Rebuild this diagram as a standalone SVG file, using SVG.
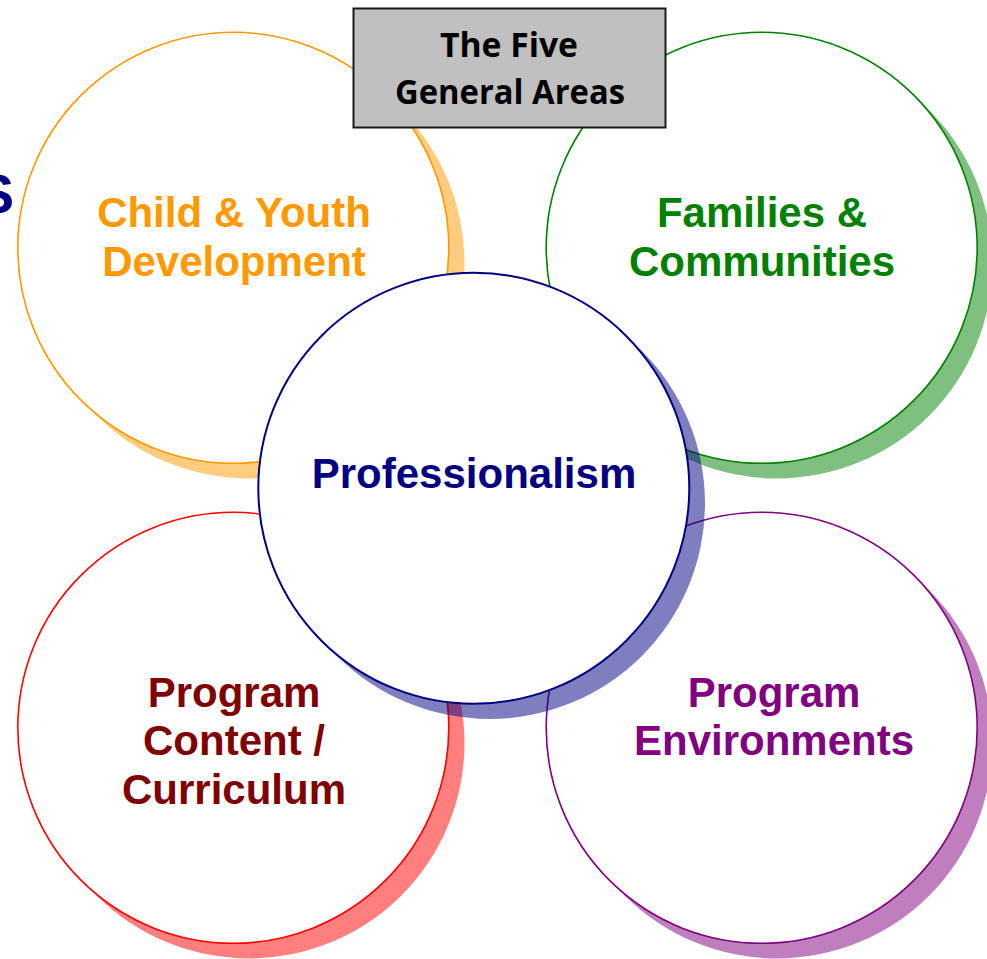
<svg xmlns="http://www.w3.org/2000/svg" width="987" height="959" viewBox="0 0 987 959">
<style>
  .lbl { font-family: "Liberation Sans", Arial, sans-serif; font-weight: bold; font-size: 42px; text-anchor: middle; }
  .ring { fill: #ffffff; stroke-width: 1.6; }
  .shadow { opacity: 0.5; }
  .box { fill: #c0c0c0; stroke: #1a1a1a; stroke-width: 2; }
  .boxt { font-family: "Open Sans", "DejaVu Sans", sans-serif; font-weight: bold; font-size: 34px; fill: #000000; text-anchor: middle; }
</style>
<rect width="987" height="959" fill="#ffffff"/>
<text x="14" y="213" style="font-family:'Liberation Sans', Arial, sans-serif;font-weight:bold;font-size:56px;fill:#000080" text-anchor="end">S</text>

<g id="node-child-youth">
  <circle class="shadow" cx="249" cy="263" r="215.5" fill="#ff9900"/>
  <circle class="ring" cx="233.3" cy="247.8" r="215.5" stroke="#ff9900"/>
  <text class="lbl" x="234" y="227" fill="#ff9900">Child &amp; Youth</text>
  <text class="lbl" x="234" y="276" fill="#ff9900">Development</text>
</g>

<g id="node-families">
  <circle class="shadow" cx="777" cy="263" r="215.5" fill="#008000"/>
  <circle class="ring" cx="761.7" cy="247.8" r="215.5" stroke="#008000"/>
  <text class="lbl" x="762" y="227" fill="#008000">Families &amp;</text>
  <text class="lbl" x="762" y="276" fill="#008000">Communities</text>
</g>

<g id="node-curriculum">
  <circle class="shadow" cx="249" cy="743" r="215.5" fill="#ff0000"/>
  <circle class="ring" cx="233.3" cy="727.8" r="215.5" stroke="#ff0000"/>
  <text class="lbl" x="234" y="707" fill="#800000">Program</text>
  <text class="lbl" x="234" y="755" fill="#800000">Content /</text>
  <text class="lbl" x="234" y="804" fill="#800000">Curriculum</text>
</g>

<g id="node-environments">
  <circle class="shadow" cx="777" cy="743" r="215.5" fill="#800080"/>
  <circle class="ring" cx="761.7" cy="727.8" r="215.5" stroke="#800080"/>
  <text class="lbl" x="774" y="707" fill="#800080">Program</text>
  <text class="lbl" x="774" y="755" fill="#800080">Environments</text>
</g>

<g id="node-professionalism">
  <circle class="shadow" cx="489.5" cy="503.5" r="215.5" fill="#000080"/>
  <circle class="ring" cx="473.8" cy="488.3" r="215.5" stroke="#000080" style="stroke-width:2"/>
  <text class="lbl" x="474" y="488" fill="#000080">Professionalism</text>
</g>

<g id="node-title">
  <rect class="box" x="353.5" y="8.5" width="312" height="119"/>
  <text class="boxt" x="509" y="57" textLength="138" lengthAdjust="spacingAndGlyphs">The Five</text>
  <text class="boxt" x="510" y="104" textLength="230" lengthAdjust="spacingAndGlyphs">General Areas</text>
</g>

<g id="connectors"></g>
</svg>
